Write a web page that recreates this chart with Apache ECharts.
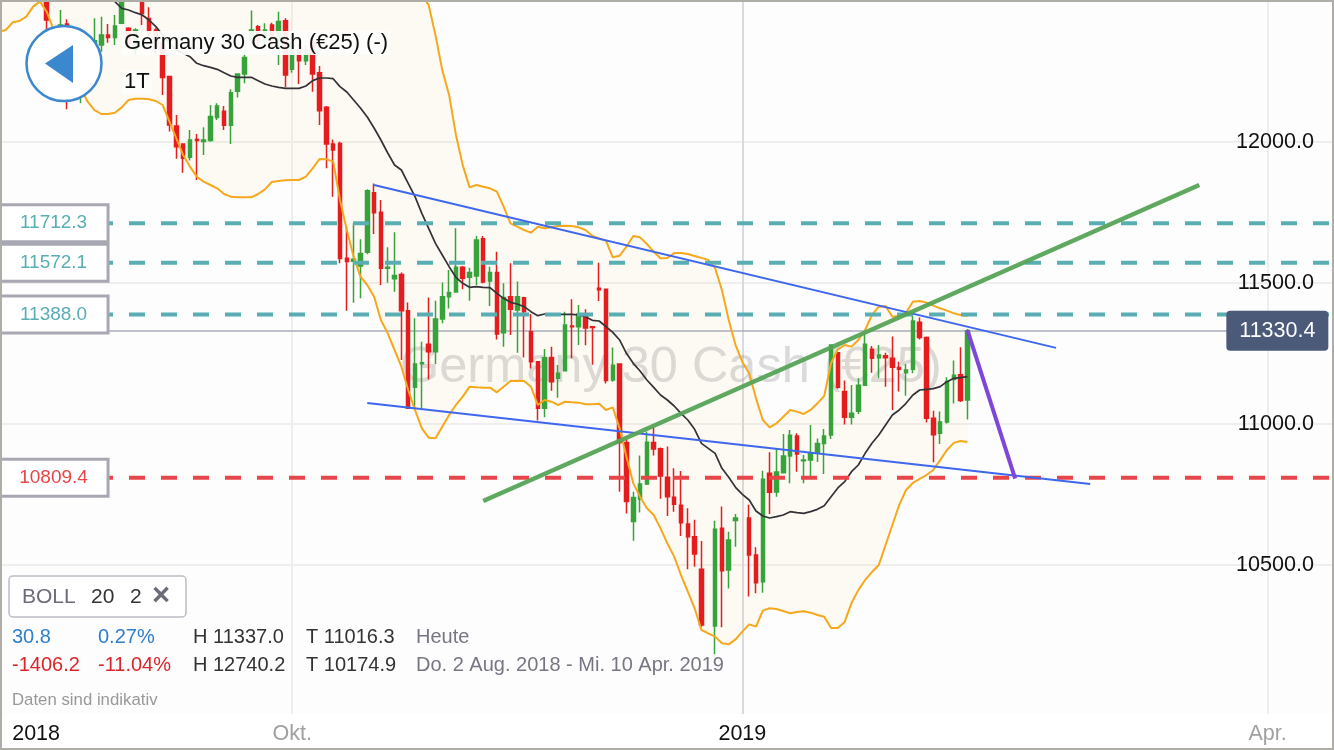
<!DOCTYPE html>
<html><head><meta charset="utf-8">
<style>html,body{margin:0;padding:0;background:#fff}#c{width:1334px;height:750px}</style>
<script src="https://cdn.jsdelivr.net/npm/echarts@6/dist/echarts.min.js"></script>
</head><body><div id="c"></div>
<script>
// Daily candles, first entry is one slot left of the window edge. null = no trading day.
const opens=[12560,12600,12640,12600,12650,12620,12680,12600,12302.6,12350,
12418,12220,12161,12267,12350,12344,12379,12371,12421,12403,
12326,12560,12438,12397,12350,12232,12057,11993,11946,12009,
12002,12005,12087,12109,12059,12180,12241,12362,12409,12362,
12415,12362,12430,12258,12326,12288,12350,12246,12123,11993,
11995,11587.5,11577,11560,11609,11820,11751,11552,11515,11530,
11402,11130,11214,11282.5,11256.5,11372,11451.5,11468,11556,11520,
11525,11657,11507,11537,11324,11451.5,11404,11448,11327,11221,
11056,11236,11162,11189,11347.5,11345,11383,11345,11481,11477.5,
11156,11213,10934,10654,10734,10787,10934,10912.5,10811,10740,
10712,10645,10600.5,10485,null,10284,10630,10482,10658,null,
10667,10535.5,10441,10825,10759,10827,10886.5,10957,10870,10872,
10896,10931,10961,11253,11115,11024,11045,11137,11265,11235,
11242,11233,11200,11182,11194,11361,11307,11020,10967,11007,
11158,11175,11085];
const closes=[12600,12640,12600,12650,12620,12680,12640,12433,12373.5,12415,
12161,12279,12243.5,12208,12359,12379,12371,12411,12520,12350,
12397,12456,12385,12338,12229,12060,11983,11942,12007,12005,
12007,12090,12128,12059,12175,12241,12300,12397,12362,12397,
12362,12427,12238,12350,12288,12326,12241,12111,11993,11972,
11587,11576,11584,11605,11827,11749,11552,11556,11527,11402,
11056,11213,11217.5,11256.5,11372,11451.5,11466,11556,11517,11537,
11652.5,11503.5,11537,11319,11449,11407,11451.5,11398,11221,11056,
11235,11150,11180,11351,11345,11390,11340,11342,11476,11154,
11208,10934,10725,10739,10787,10935,10911,10816,10742,10715,
10650,10600.5,10539,10287,null,10626.5,10480,10589,10667,null,
10535.5,10437,10804,10758,10830,10886.5,10960,10894,10872,10896,
10931,10957,11280,11130,11024,11038,11137,11282.5,11233,11245,
11235,11201,11194,11191.5,11365,11307,11020,10962,11007,11151,
11173,11083,11330.4];
const lows=[12530,12560,12570,12570,12590,12590,12600,12397,12279,12302,
12116,12208,12137,12184,12347.5,12320,12352,12344,12418,12326,
12308.5,12415,12373.5,12314,12167,12037,11941,11891,11934,11865,
11954,12001,12078,12042.5,11993,12158,12208,12350,12338,12344,
12338,12273,12194,12246,12206,12273,12178.5,12060,11907,11806,
11570,11402,11430,11446,11602,11674,11493,11501,11469,11227,
11056,11056,11056,11158,11213,11357,11410,11466,11477.5,11437,
11493,11499,11418,11300,11274,11316,11253,11236,11197,11012,
11024,11118,11093,11186,11233,11280,11279,11210,11436,11144,
11150,10760,10683,10586,10686,10784,10888,10735,10674,10689,
10603,10485,10494,10281,null,10174.9,10279,10417,10565,null,
10388,10399.5,10402,10681,10742,10825,10790,10831,10790,10816,
10865,10823,10947,11125,10998,10998,11035.5,11135,11182,11162,
11132,11050,11115,11100.5,11180,11300,11005,10864,10929,11002,
11073,11078,11016.3];
const highs=[12640,12690,12680,12700,12740.2,12720,12710,12640,12385,12468,
12435,12302.5,12302.5,12302.5,12438.5,12444,12418,12450,12560,12407,
12403,12600,12477.5,12403,12385,12234,12096,11995,12042.5,12028,
12052,12131,12137,12128,12187,12243.5,12326,12466,12415,12421,
12423,12462,12438.5,12385,12350,12344,12373.5,12269.5,12128,12009,
12001,11700,11712,11655,11832,11853,11794,11626.5,11680,11537,
11431,11375,11292,11449,11437,11502,11546,11694,11560,11554,
11667,11667,11558,11611,11499,11570,11505,11451.5,11390,11221,
11266,11274,11209,11398,11442,11422,11407,11345,11572,11477.5,
11271,11215,10946,10760,10888,10973,10988,10917,10920,10843,
10833,10701,10660,10585,null,10657,10707,10618,10681,null,
10714,10563,10834.5,10899.5,10910,10964.5,10979,10967,10890,10996.5,
10949,10982,11283,11253,11154,11138,11162,11321.5,11277,11280,
11253,11310,11221,11213,11387,11378,11310,11047,11044,11165.5,
11225,11272,11337];
const bollLower=[12391,12397.1,12424.3,12429,12444.4,12479.9,12497.6,12462.1,12397.1,12344,
12290.7,12237.6,12190.3,12143,12113.4,12099.3,12099.3,12104,12122.9,12148.9,
12153.6,12153.6,12151.3,12145.4,12131.2,12072.1,12013,11953.9,11912.5,11877,
11859.3,11847.5,11835.7,11815.6,11806.1,11803.8,11803.8,11803.8,11815.6,11832.1,
11858.1,11861.7,11864,11865.2,11865.2,11877,11906.6,11939.7,11938.5,11931.4,
11794.3,11688,11593.4,11522.5,11492.9,11451.5,11368.8,11321.5,11262.4,11203.3,
11120.6,11049.7,10984.7,10951.5,10949.2,10990.6,11032,11067.4,11097,11132.4,
11130,11128.8,11128.8,11112.3,11132.4,11152.5,11153.7,11152.5,11132.4,11067.4,
11085.1,11079.2,11067.4,11079.2,11076.8,11075.7,11069.8,11069.8,11072.1,11049.7,
11059.1,10984.6,10884.2,10789.6,10742.3,10701,10677.3,10630,10576.9,10529.6,
10464.5,10405.4,10346.4,10269.5,10257.7,10245.9,10222.2,10218.7,10236.4,10263.6,
10289.6,10281.3,10338.1,10346.4,10344,10336.9,10328.6,10333.3,10335.7,10331,
10322.7,10316.8,10276.6,10276.6,10298,10365,10411,10447,10475,10500,
10571,10642,10713,10766,10791,10805,10819,10837,10872,10908,
10933,10940,10936];
const bollMiddle=[12680,12678,12672,12663,12655,12648,12640,12632,12622,12610,
12600,12590,12575,12562,12548,12530,12515,12497.6,12474,12468,
12458.6,12450.3,12432.6,12409,12379.4,12349.8,12326.2,12314.4,12302.6,12279,
12270.6,12264.7,12257.6,12245.8,12234,12229.3,12229.3,12229.3,12217.5,12205.6,
12198.5,12193.8,12190.3,12190.3,12190.3,12198.5,12217.5,12226.9,12226.9,12224.5,
12196.2,12177.3,12148.9,12120.6,12088.7,12049.6,12007.1,11961,11918.4,11900.7,
11853.4,11806.1,11747,11693.9,11640.7,11599.3,11557.9,11520.1,11498.8,11484.6,
11487,11484.6,11483.4,11463.4,11445.6,11431.4,11425.5,11416,11398.4,11384.2,
11390.1,11390.1,11388.9,11388.9,11388.9,11386.5,11380.6,11367.6,11365.3,11345.2,
11325.1,11297.9,11250.6,11215.1,11188,11156.1,11130,11102.9,11085.1,11063.8,
11037.8,11014.2,10981.1,10931.4,10913.7,10896,10842.8,10810.9,10775.4,10750.6,
10730.5,10691.5,10673.8,10666.7,10671.4,10677.3,10689.1,10685.6,10683.2,10689.1,
10697.4,10710.4,10742.3,10773.1,10795.6,10831,10854.6,10896,10931.5,10961,
10996.5,11032,11049.7,11073.3,11102.9,11120.6,11123,11125.3,11132.4,11150.2,
11162,11164.3,11167.9];
const bollUpper=[12900,12905,12910,12905,12895,12890,12900,12915,12930,12935,
12930,12925,12915,12905,12900,12895,12890,12885,12880,12890,
12900,12905,12910,12905,12900,12895,12900,12905,12900,12895,
12890,12885,12880,12875,12870,12865,12860,12855,12850,12855,
12860,12865,12870,12875,12880,12885,12890,12895,12900,12905,
12910,12900,12890,12880,12870,12850,12830,12800,12770,12730,
12690,12640,12520,12486,12379,12255,12167,12025,11918,
11839.2,11847.5,11841.6,11835.7,11823.9,11770.7,11711.6,11699.8,11687.9,11678.5,
11699.8,11693.9,11697.4,11702.1,11703.3,11702.1,11697.4,11687.9,11667.8,11658.4,
11650.1,11591,11596.9,11628.8,11666.7,11661.9,11638.3,11611.1,11587.5,11588.7,
11606,11606,11603,11596,11589,11582,11553,11475,11369,11280,
11220,11179.7,11091,11014.2,10988.2,11002.4,11026,11049.7,11043.8,11035.5,
11049.7,11073.3,11099.3,11215.2,11264.8,11280.2,11274.3,11297.9,11333.4,11386.6,
11416.1,11418.5,11380.6,11383,11394.8,11433.8,11436.2,11430.3,11419.6,11410.2,
11401.9,11392.5,11386.6,11383];
// drawn trend lines: [slot, value] pairs
const blueUpper=[[55,11847.5],[155,11270]];
const blueLower=[[54,11074.5],[160,10787]];
const greenTrend=[[71,10727],[176,11847.5]];
const purpleDrop=[[142,11333],[149,10806]];
const tealLevels=[11712.3,11572.1,11388.0];
const redLevels=[10809.4];
const lastPrice=11330.4;
const gridValues=[10500,11000,11500,12000];
const xTicks={5:'2018',43:'Okt.',109:'2019',186:'Apr.'};
const SLOTS=197;
const categories=[];for(let j=0;j<SLOTS;j++)categories.push(String(j));

const TEAL='#58aeb3',RED='#e84548',ORANGE='#f6a81d',FONT='"Liberation Sans",Arial,sans-serif';
const candleData=opens.map((o,i)=>o==null?['-','-','-','-']:[o,closes[i],lows[i],highs[i]]);
const lineBase={type:'line',symbol:'none',silent:true,animation:false};
const txtPanel=(text,x,y,fill,size,bg)=>({type:'text',x:x-2,y:y+1,z:20,silent:true,style:{text,fill,font:size+'px '+FONT,textVerticalAlign:'middle',backgroundColor:bg||'rgba(253,253,253,0.82)',padding:[1,2]}});
const levelLine=(v,color)=>({...lineBase,name:'level '+v,data:[[0,v],[196,v]],z:4,lineStyle:{color,width:4,type:[16,16],dashOffset:29.99}});
const boxLabel=(color)=>({show:true,position:'inside',formatter:(p)=>p.value[1].toFixed(1),fontFamily:FONT,fontSize:19,color,backgroundColor:'#fff',borderColor:'#a8a8b4',borderWidth:3,width:106,height:34,lineHeight:34,align:'center',verticalAlign:'middle'});
const hiddenDot={color:'rgba(0,0,0,0)',opacity:1};

const option={
 backgroundColor:'#fff',animation:false,
 title:{text:'Germany 30 Cash (€25)',left:395,top:338,z:0,textStyle:{fontFamily:FONT,fontSize:50.5,fontWeight:'normal',color:'rgba(150,150,155,0.34)'}},
 grid:{left:-4.42,top:1,width:SLOTS*6.82,height:713,containLabel:false,outerBoundsMode:'none'},
 xAxis:{type:'category',data:categories,boundaryGap:true,axisLine:{show:false},axisTick:{show:false},splitLine:{show:false},
  axisLabel:{interval:0,margin:5,hideOverlap:false,formatter:(v)=>{const t=xTicks[v];if(!t)return '';return (t==='Okt.'||t==='Apr.')?'{g|'+t+'}':(t==='2018'?'{a|'+t+'}':'{b|'+t+'}');},
   rich:{g:{fontFamily:FONT,fontSize:21.5,color:'#a0a0a0',padding:[4,0,4,0]},a:{fontFamily:FONT,fontSize:21.5,color:'#111',backgroundColor:'#fff',padding:[4,6,4,12]},b:{fontFamily:FONT,fontSize:21.5,color:'#111',backgroundColor:'#fff',padding:[4,10,4,10]}}}},
 yAxis:{type:'value',position:'right',min:9971.6,max:12500,scale:true,axisLine:{show:false},axisTick:{show:false},splitLine:{show:false},
  axisLabel:{inside:true,margin:25,customValues:gridValues,formatter:(v)=>v.toFixed(1),fontFamily:FONT,fontSize:21.6,color:'#111',padding:[3,0,0,0]}},
 graphic:{elements:[
  {type:'rect',z:-1,silent:true,shape:{x:0,y:0,width:1334,height:714},style:{fill:'#fdfdfd'}},
  {type:'circle',z:20,silent:true,shape:{cx:64,cy:63.5,r:37.5},style:{fill:'#fff',stroke:'#3b88cf',lineWidth:2.5}},
  {type:'polygon',z:21,silent:true,shape:{points:[[45,63.5],[73,45],[73,83]]},style:{fill:'#3b88cf'}},
  txtPanel('Germany 30 Cash (€25) (-)',124,42,'#111',22,'rgba(253,253,253,0.92)'),
  txtPanel('1T',124,81,'#111',22,'rgba(253,253,253,0.92)'),
  {type:'rect',z:20,silent:true,shape:{x:9,y:576,width:177,height:41,r:4},style:{fill:'#fff',stroke:'#bcbcc4',lineWidth:1.5}},
  {type:'text',x:22,y:597,z:21,silent:true,style:{text:'BOLL',fill:'#6c6c78',font:'21px '+FONT,textVerticalAlign:'middle'}},
  {type:'text',x:91,y:597,z:21,silent:true,style:{text:'20',fill:'#333',font:'21px '+FONT,textVerticalAlign:'middle'}},
  {type:'text',x:130,y:597,z:21,silent:true,style:{text:'2',fill:'#333',font:'21px '+FONT,textVerticalAlign:'middle'}},
  {type:'text',x:152,y:596,z:21,silent:true,style:{text:'×',fill:'#6c6c78',font:'bold 31px '+FONT,textVerticalAlign:'middle'}},
  txtPanel('30.8',12,636,'#2f7fc9',20),txtPanel('0.27%',98,636,'#2f7fc9',20),txtPanel('H 11337.0',193,636,'#333',20),txtPanel('T 11016.3',306,636,'#333',20),txtPanel('Heute',416,636,'#777784',20),
  txtPanel('-1406.2',12,664,'#d9252b',20),txtPanel('-11.04%',98,664,'#d9252b',20),txtPanel('H 12740.2',193,664,'#333',20),txtPanel('T 10174.9',306,664,'#333',20),txtPanel('Do. 2 Aug. 2018 - Mi. 10 Apr. 2019',416,664,'#777784',20),
  txtPanel('Daten sind indikativ',12,699,'#999',16.8),
  {type:'rect',z:30,silent:true,shape:{x:1,y:1,width:1332,height:748},style:{fill:'none',stroke:'#aeaea6',lineWidth:2}}
 ]},
 series:[
  {...lineBase,name:'grid',data:[],z:0,markLine:{silent:true,animation:false,symbol:'none',z:0,label:{show:false},data:[
    ...gridValues.map(v=>({yAxis:v,lineStyle:{color:'#eeeeee',width:2,type:'solid'}})),
    {xAxis:'43',lineStyle:{color:'#eeeeee',width:2,type:'solid'}},
    {xAxis:'109',lineStyle:{color:'#d9d9e0',width:2,type:'solid'}},
    {xAxis:'186',lineStyle:{color:'#eeeeee',width:2,type:'solid'}}]}},
  {...lineBase,name:'bandBase',data:bollLower,stack:'boll',lineStyle:{width:0},z:1},
  {...lineBase,name:'band',data:bollUpper.map((u,i)=>u-bollLower[i]),stack:'boll',lineStyle:{width:0},areaStyle:{color:'rgba(250,185,80,0.06)',opacity:1},z:1},
  {type:'candlestick',name:'Germany 30 Cash',data:candleData,barWidth:4,silent:true,animation:false,z:2,clip:true,
   itemStyle:{color:'#37a33b',color0:'#e51d1e',borderColor:'#37a33b',borderColor0:'#e51d1e',borderWidth:1.5}},
  {...lineBase,name:'BOLL upper',data:bollUpper,z:3,lineStyle:{color:ORANGE,width:2}},
  {...lineBase,name:'BOLL lower',data:bollLower,z:3,lineStyle:{color:ORANGE,width:2}},
  {...lineBase,name:'BOLL middle',data:bollMiddle,z:3,lineStyle:{color:'#333337',width:1.7}},
  {...lineBase,name:'last',data:[],z:1,markLine:{silent:true,animation:false,symbol:'none',z:2,label:{show:false},data:[[{coord:['8',lastPrice]},{coord:['186',lastPrice]}]],lineStyle:{color:'#a9adba',width:1.5,type:'solid'}}},
  ...tealLevels.map(v=>levelLine(v,TEAL)),
  ...redLevels.map(v=>levelLine(v,RED)),
  {...lineBase,name:'blue upper',data:blueUpper,z:5,lineStyle:{color:'#3f67ee',width:2}},
  {...lineBase,name:'blue lower',data:blueLower,z:5,lineStyle:{color:'#3f67ee',width:2}},
  {...lineBase,name:'green trend',data:greenTrend,z:5,lineStyle:{color:'rgba(86,163,86,0.95)',width:4.5}},
  {...lineBase,name:'purple',data:purpleDrop,z:5,lineStyle:{color:'#7e46d9',width:4}},
  {type:'scatter',name:'level boxes',silent:true,animation:false,z:8,symbol:'circle',symbolSize:1,
   data:[...tealLevels.map(v=>({value:[8,v],itemStyle:hiddenDot,label:boxLabel(TEAL)})),...redLevels.map(v=>({value:[8,v],itemStyle:hiddenDot,label:boxLabel(RED)}))]},
  {type:'scatter',name:'last box',silent:true,animation:false,z:8,symbol:'circle',symbolSize:1,
   data:[{value:[187,lastPrice],itemStyle:hiddenDot,label:{show:true,position:'inside',offset:[3,0],formatter:(p)=>p.value[1].toFixed(1),fontFamily:FONT,fontSize:21.5,color:'#fff',backgroundColor:'#4a5a78',borderRadius:4,width:102,height:40,lineHeight:40,align:'center',verticalAlign:'middle'}}]}
 ]
};
const chart=echarts.init(document.getElementById('c'),null,{renderer:'canvas'});
chart.setOption(option);
</script></body></html>
